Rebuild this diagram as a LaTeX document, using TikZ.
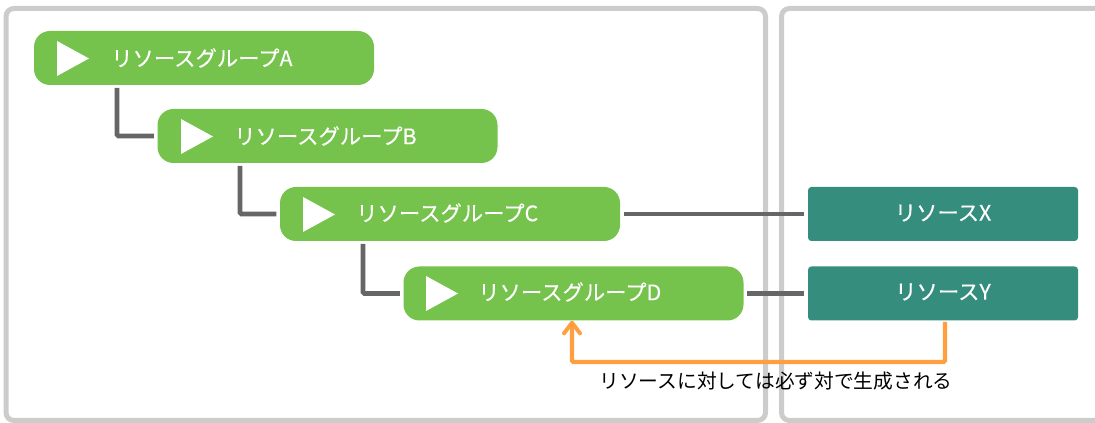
\documentclass[tikz,border=0pt]{standalone}
\usepackage{fontspec}
\setmainfont{Noto Sans CJK JP}
\newfontfamily\boldish[FakeBold=0.25]{Noto Sans CJK JP}
\usetikzlibrary{arrows.meta}
\definecolor{grp}{HTML}{75C34C}
\definecolor{res}{HTML}{358E7D}
\definecolor{pan}{HTML}{CCCCCC}
\definecolor{lnk}{HTML}{666666}
\definecolor{org}{HTML}{FF9F40}
\tikzset{
 panel/.style={draw=pan,line width=3.75pt,rounded corners=6pt},
 grpbox/.style={fill=grp,draw=none,rounded corners=12pt,minimum width=255pt,minimum height=40.5pt,inner sep=0pt},
 resbox/.style={fill=res,draw=none,rounded corners=2.5pt,minimum width=202.5pt,minimum height=40.5pt,inner sep=0pt},
 lbl/.style={text=white,font=\boldish\fontsize{16}{18}\selectfont,inner sep=0pt},
 tri/.style={fill=white,draw=none},
 lnkline/.style={draw=lnk,line width=3.4pt,shorten >=2.5pt,shorten <=2.5pt},
 tree/.style={draw=lnk,line width=3.4pt,shorten >=2.5pt,rounded corners=1pt},
 orgline/.style={draw=org,line width=3.2pt,rounded corners=1pt,-{Straight Barb[length=8pt,width=12pt,line width=3pt,round]},shorten >=0.5pt},
}
\begin{document}
\begin{tikzpicture}[x=0.75pt,y=-0.75pt]
\useasboundingbox (0,0) rectangle (1095,423);
\begin{scope}
\clip (0,0) rectangle (1095,423);
\draw[panel] (6,8.5) rectangle (765.5,420.5);
\draw[panel] (781.5,8.5) rectangle (1130,420.5);
\end{scope}
\node[grpbox] (A) at (204,58) {};
\node[grpbox] (B) at (327.5,136) {};
\node[grpbox] (C) at (450,214) {};
\node[grpbox] (D) at (573.5,293.5) {};
\node[resbox] (X) at (943,214) {};
\node[resbox] (Y) at (943,293.5) {};
\fill[tri] (57,41) -- (57,76) -- (89,58.5) -- cycle;
\fill[tri] (181,119) -- (181,154) -- (213,136.5) -- cycle;
\fill[tri] (303,197) -- (303,232) -- (335,214.5) -- cycle;
\fill[tri] (426,276) -- (426,311) -- (458,293.5) -- cycle;
\node[lbl,anchor=west] (tA) at (111,58) {リソースグループA};
\node[lbl,anchor=west] (tB) at (234,136) {リソースグループB};
\node[lbl,anchor=west] (tC) at (356,213) {リソースグループC};
\node[lbl,anchor=west] (tD) at (478,292) {リソースグループD};
\node[lbl] (tX) at (943,213) {リソースX};
\node[lbl] (tY) at (943,292) {リソースY};
\coordinate (a0) at (117,88);
\coordinate (b0) at (240,166);
\coordinate (c0) at (363,244);
\draw[tree] (a0) |- (B.west);
\draw[tree] (b0) |- (C.west);
\draw[tree] (c0) |- (D.west);
\draw[lnkline] (C.east) -- (X.west);
\draw[lnkline] (D.east) -- (Y.west);
\coordinate (y0) at (945,322);
\coordinate (d0) at (572,320);
\coordinate (bend) at (945,362);
\draw[orgline] (y0) -- (bend) -| (d0);
\node[text=black,font=\fontsize{14.8}{16}\selectfont,inner sep=0pt] (note) at (776,381) {リソースに対しては必ず対で生成される};
\end{tikzpicture}
\end{document}
